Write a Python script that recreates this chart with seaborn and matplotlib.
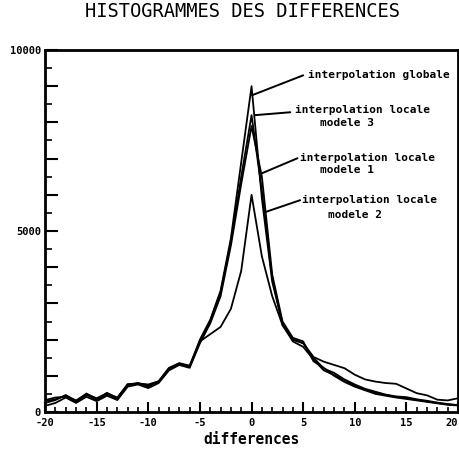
import numpy as np
import pandas as pd
import matplotlib
matplotlib.use("Agg")
import matplotlib.pyplot as plt
from matplotlib.ticker import MultipleLocator, FuncFormatter
import seaborn as sns

# differences (x) and histogram counts for each interpolation method
differences = list(range(-20, 21))

globale = [250, 330, 470, 300, 510, 360, 530, 380, 760, 790, 740, 840, 1200, 1340, 1260,
           2000, 2550, 3350, 4800, 6900, 9000, 5900, 3600, 2450, 2000, 1900, 1500, 1200,
           1080, 900, 760, 640, 560, 480, 430, 410, 350, 310, 260, 220, 190]

locale_modele_3 = [330, 400, 420, 280, 470, 340, 500, 360, 740, 800, 700, 830, 1180, 1320, 1240,
                   1950, 2500, 3300, 4700, 6500, 8200, 6100, 3700, 2400, 1950, 1800, 1450, 1150,
                   1020, 880, 720, 620, 540, 470, 420, 380, 340, 290, 250, 210, 190]

locale_modele_1 = [170, 250, 400, 250, 420, 300, 450, 330, 700, 760, 660, 800, 1150, 1300, 1220,
                   1900, 2450, 3200, 4600, 6300, 7900, 6500, 3800, 2500, 2050, 1950, 1400, 1220,
                   1000, 830, 700, 600, 500, 450, 400, 360, 320, 280, 240, 200, 180]

locale_modele_2 = [300, 350, 450, 320, 490, 380, 510, 400, 770, 790, 760, 850, 1220, 1350, 1280,
                   1950, 2150, 2350, 2850, 3900, 6000, 4300, 3200, 2400, 2000, 1900, 1520, 1390,
                   1300, 1210, 1030, 900, 840, 800, 780, 650, 520, 460, 340, 320, 380]

series_names = ["globale", "modele 3", "modele 1", "modele 2"]
series_values = [globale, locale_modele_3, locale_modele_1, locale_modele_2]

x_ticks = [-20, -15, -10, -5, 0, 5, 10, 15, 20]
y_labelled = [0, 5000, 10000]

df = pd.concat(
    [pd.DataFrame({"difference": differences, "count": vals, "methode": name})
     for name, vals in zip(series_names, series_values)],
    ignore_index=True,
)

sns.set_theme(style="white")
plt.rcParams["font.family"] = ["DejaVu Sans Mono", "DejaVu Sans"]

fig = plt.figure(figsize=(4.6, 4.54), dpi=100)
ax = fig.add_axes([0.098, 0.0925, 0.8977, 0.7974])

sns.lineplot(data=df, x="difference", y="count", hue="methode",
             palette=["black"] * 4, linewidth=1.3, legend=False, ax=ax,
             estimator=None, sort=False)

ax.set_xlim(-20, 20)
ax.set_ylim(0, 10000)

for side in ["left", "right", "top", "bottom"]:
    ax.spines[side].set_visible(True)
    ax.spines[side].set_color("black")
    ax.spines[side].set_linewidth(2)

ax.xaxis.set_major_locator(MultipleLocator(5))
ax.xaxis.set_minor_locator(MultipleLocator(1))
ax.yaxis.set_major_locator(MultipleLocator(1000))
ax.yaxis.set_minor_locator(MultipleLocator(500))
ax.xaxis.set_major_formatter(FuncFormatter(lambda v, p: f"{int(round(v))}" if int(round(v)) in x_ticks else ""))
ax.yaxis.set_major_formatter(FuncFormatter(lambda v, p: f"{int(round(v))}" if int(round(v)) in y_labelled else ""))

ax.tick_params(axis="both", which="both", direction="in", color="black",
               bottom=True, left=True, top=False, right=False)
ax.tick_params(axis="x", which="major", length=7, width=1.5, pad=4)
ax.tick_params(axis="x", which="minor", length=3.5, width=1.2)
ax.tick_params(axis="y", which="major", length=9, width=1.5, pad=3)
ax.tick_params(axis="y", which="minor", length=5, width=1.2)

fig.canvas.draw()
for lab in ax.get_xticklabels() + ax.get_yticklabels():
    lab.set_fontsize(7.5)
    lab.set_fontweight("bold")
    lab.set_color("black")
# keep the last x label inside the figure edge
for lab in ax.get_xticklabels():
    if lab.get_text() == "20":
        lab.set_horizontalalignment("right")

ax.set_xlabel("differences", fontsize=10.5, fontweight="bold", color="black", labelpad=3)
ax.set_ylabel("")
fig.suptitle("HISTOGRAMMES DES DIFFERENCES", x=0.527, y=0.975, fontsize=13.5,
             color="black", va="center")

# method labels with pointer lines
label_font = dict(fontsize=8, fontweight="bold", color="black", va="center", ha="left")
pointer = dict(arrowstyle="-", color="black", lw=1.4, shrinkA=0, shrinkB=0)

ax.annotate("", xy=(0.05, 8750), xytext=(5.0, 9300), arrowprops=pointer)
ax.text(5.45, 9300, "interpolation globale", **label_font)

ax.annotate("", xy=(0.35, 8200), xytext=(3.75, 8280), arrowprops=pointer)
ax.text(4.2, 8330, "interpolation locale", **label_font)
ax.text(6.6, 7970, "modele 3", **label_font)

ax.annotate("", xy=(1.05, 6600), xytext=(4.45, 7010), arrowprops=pointer)
ax.text(4.7, 7010, "interpolation locale", **label_font)
ax.text(6.6, 6680, "modele 1", **label_font)

ax.annotate("", xy=(1.3, 5520), xytext=(4.7, 5850), arrowprops=pointer)
ax.text(4.9, 5850, "interpolation locale", **label_font)
ax.text(7.4, 5440, "modele 2", **label_font)

fig.savefig("out.png", dpi=100, facecolor="white")
